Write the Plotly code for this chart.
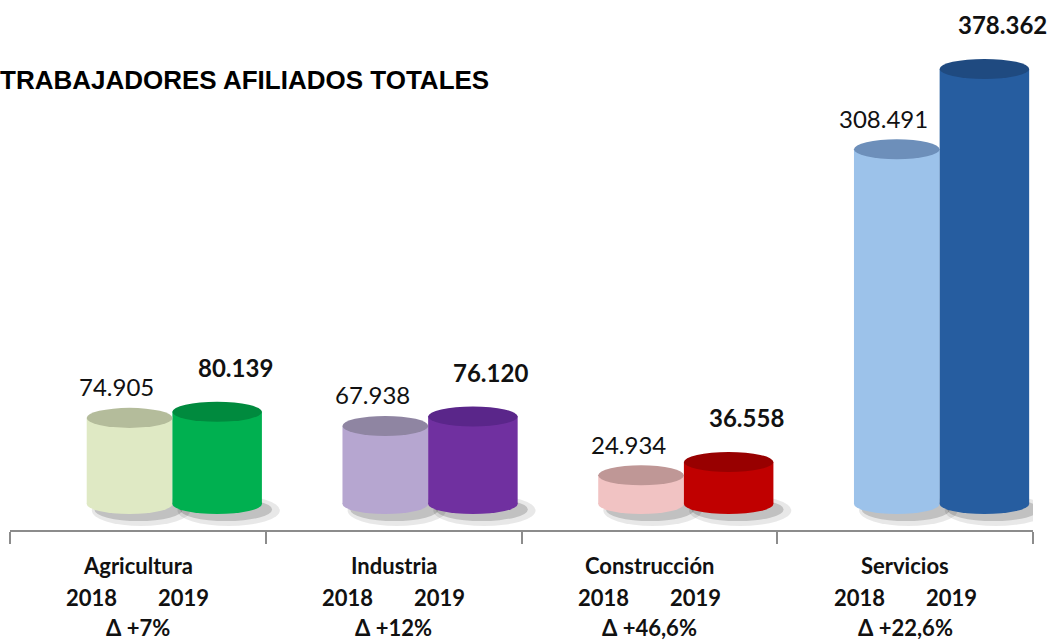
import plotly.graph_objects as go

# ---- data ----
categories = ["Agricultura", "Industria", "Construcción", "Servicios"]
years = ["2018", "2019"]
afiliados_2018 = [74905, 67938, 24934, 308491]
afiliados_2019 = [80139, 76120, 36558, 378362]
variacion = ["Δ +7%", "Δ +12%", "Δ +46,6%", "Δ +22,6%"]
title_text = "TRABAJADORES AFILIADOS TOTALES"

# ---- styles ----
side_2018 = ["#dfe9c4", "#b6a6d0", "#f1c3c3", "#9cc2ea"]
top_2018 = ["#b4bc9b", "#8f85a2", "#bf9796", "#6d8fba"]
side_2019 = ["#00b050", "#7030a0", "#c00000", "#265da0"]
top_2019 = ["#008a3e", "#5a268a", "#980000", "#1f4a80"]

OFF_2018, W_2018 = -0.20, 0.335
OFF_2019, W_2019 = 0.135, 0.35
H = 8700          # half height of the cylinder ellipses (data units)
Y_RANGE = [-22600, 429600]

fmt = lambda v: f"{v:,}".replace(",", ".")

fig = go.Figure()

fig.add_trace(go.Bar(name=years[0], x=categories, y=afiliados_2018,
                     offset=OFF_2018, width=W_2018,
                     marker=dict(color=side_2018, line=dict(width=0)),
                     hoverinfo="skip"))
fig.add_trace(go.Bar(name=years[1], x=categories, y=afiliados_2019,
                     offset=OFF_2019, width=W_2019,
                     marker=dict(color=side_2019, line=dict(width=0)),
                     hoverinfo="skip"))

shapes = []
annotations = []
series = [
    (afiliados_2018, OFF_2018, W_2018, side_2018, top_2018, False, 31, -13),
    (afiliados_2019, OFF_2019, W_2019, side_2019, top_2019, True, 44, 18),
]
# shadows first
for vals, off, w, side, top, bold, ysh, xsh in series:
    for i, v in enumerate(vals):
        x0, x1 = i + off, i + off + w
        shapes.append(dict(type="circle", xref="x", yref="y", layer="below",
                           x0=x0 + 0.02, x1=x1 + 0.07, y0=-2.2 * H, y1=0.9 * H,
                           fillcolor="rgba(0,0,0,0.09)", line=dict(width=0)))
        shapes.append(dict(type="circle", xref="x", yref="y", layer="below",
                           x0=x0 + 0.03, x1=x1 + 0.04, y0=-1.7 * H, y1=0.6 * H,
                           fillcolor="rgba(0,0,0,0.17)", line=dict(width=0)))
for vals, off, w, side, top, bold, ysh, xsh in series:
    for i, v in enumerate(vals):
        x0, x1 = i + off, i + off + w
        # bottom of cylinder
        shapes.append(dict(type="circle", xref="x", yref="y", layer="below",
                           x0=x0, x1=x1, y0=-H, y1=H,
                           fillcolor=side[i], line=dict(width=0)))
        # top of cylinder
        shapes.append(dict(type="circle", xref="x", yref="y", layer="above",
                           x0=x0, x1=x1, y0=v - H, y1=v + H,
                           fillcolor=top[i], line=dict(width=0)))
        txt = fmt(v)
        if bold:
            txt = "<b>" + txt + "</b>"
        annotations.append(dict(x=i + off + w / 2, y=v, xref="x", yref="y",
                                text=txt, showarrow=False, yanchor="middle",
                                yshift=ysh, xshift=xsh,
                                font=dict(family="Lato", size=24, color="#111111")))

# category labels under the axis
lab_font = dict(family="Lato", size=22, color="#111111")
for i, c in enumerate(categories):
    annotations.append(dict(x=i, y=0, xref="x", yref="paper", yanchor="middle",
                            yshift=-35, text="<b>" + c + "</b>", showarrow=False,
                            font=lab_font))
    annotations.append(dict(x=i, y=0, xref="x", yref="paper", yanchor="middle",
                            yshift=-67, xshift=-46, text="<b>" + years[0] + "</b>",
                            showarrow=False, font=lab_font))
    annotations.append(dict(x=i, y=0, xref="x", yref="paper", yanchor="middle",
                            yshift=-67, xshift=46, text="<b>" + years[1] + "</b>",
                            showarrow=False, font=lab_font))
    annotations.append(dict(x=i, y=0, xref="x", yref="paper", yanchor="middle",
                            yshift=-97, text="<b>" + variacion[i] + "</b>",
                            showarrow=False, font=lab_font))

annotations.append(dict(x=-0.012, y=1, xref="paper", yref="paper",
                        xanchor="left", yanchor="middle", yshift=-70,
                        text="<b>" + title_text + "</b>", showarrow=False,
                        font=dict(family="Liberation Sans, Arial", size=26,
                                  color="#000000")))

fig.update_layout(
    width=1055, height=640,
    margin=dict(l=10, r=22, t=10, b=110),
    paper_bgcolor="white", plot_bgcolor="white",
    barmode="overlay", showlegend=False,
    shapes=shapes, annotations=annotations,
    xaxis=dict(type="category", range=[-0.5, 3.5], showticklabels=False,
               tickson="boundaries", ticks="outside", ticklen=12,
               tickcolor="#8c8c8c", tickwidth=1.5,
               showline=True, linecolor="#8c8c8c", linewidth=1.5,
               showgrid=False, zeroline=False, fixedrange=True),
    yaxis=dict(visible=False, range=Y_RANGE, showgrid=False,
               zeroline=False, fixedrange=True),
)

fig.write_html("out.html", config={"displayModeBar": False},
               post_script="document.body.style.margin='0';document.body.style.padding='0';")
